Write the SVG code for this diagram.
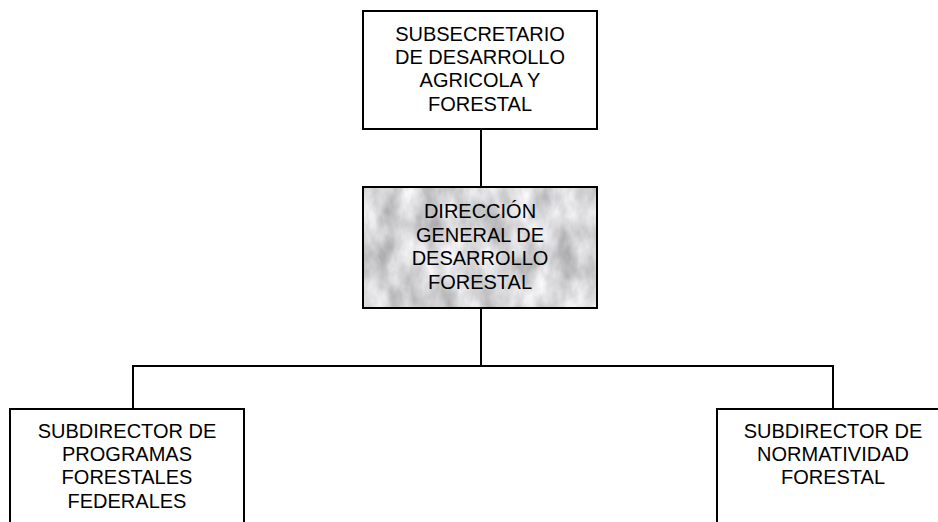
<svg xmlns="http://www.w3.org/2000/svg" width="938" height="522" viewBox="0 0 938 522">
  <style>
    .box { fill: #ffffff; stroke: #000000; stroke-width: 2; }
    .frame { fill: none; stroke: #000000; stroke-width: 2; }
    .link { fill: none; stroke: #000000; stroke-width: 2; }
    .label { font-family: "Liberation Sans", Arial, sans-serif; font-size: 20px; fill: #000000; text-anchor: middle; }
  </style>
  <defs>
    <!-- light grey marble texture for the general directorate -->
    <filter id="marble" x="0" y="0" width="1" height="1" color-interpolation-filters="sRGB">
      <feTurbulence type="fractalNoise" baseFrequency="0.045 0.025" numOctaves="4" seed="7" result="noise"/>
      <feColorMatrix in="noise" type="matrix"
        values="0.45 0 0 0 0.62
                0.45 0 0 0 0.62
                0.45 0 0 0 0.63
                0 0 0 0 1" result="grey"/>
      <feComposite in="grey" in2="SourceGraphic" operator="in"/>
    </filter>
  </defs>

  <g id="connectors">
    <line class="link" x1="481" y1="129" x2="481" y2="187"/>
    <line class="link" x1="481" y1="308" x2="481" y2="366"/>
    <polyline class="link" points="133,409 133,366 833,366 833,409"/>
  </g>

  <g id="subsecretario">
    <rect class="box" x="363" y="11" width="234" height="118"/>
    <text class="label" x="480" y="41">SUBSECRETARIO</text>
    <text class="label" x="480" y="64">DE DESARROLLO</text>
    <text class="label" x="480" y="87">AGRICOLA Y</text>
    <text class="label" x="480" y="111">FORESTAL</text>
  </g>

  <g id="direccion-general">
    <rect x="363" y="187" width="234" height="121" fill="#dcdcdc" filter="url(#marble)"/>
    <rect class="frame" x="363" y="187" width="234" height="121"/>
    <text class="label" x="480" y="218">DIRECCIÓN</text>
    <text class="label" x="480" y="242">GENERAL DE</text>
    <text class="label" x="480" y="265">DESARROLLO</text>
    <text class="label" x="480" y="289">FORESTAL</text>
  </g>

  <g id="subdirector-programas">
    <rect class="box" x="10" y="409" width="234" height="130"/>
    <text class="label" x="127" y="438">SUBDIRECTOR DE</text>
    <text class="label" x="127" y="461">PROGRAMAS</text>
    <text class="label" x="127" y="484">FORESTALES</text>
    <text class="label" x="127" y="508">FEDERALES</text>
  </g>

  <g id="subdirector-normatividad">
    <rect class="box" x="717" y="409" width="234" height="130"/>
    <text class="label" x="833" y="438">SUBDIRECTOR DE</text>
    <text class="label" x="833" y="461">NORMATIVIDAD</text>
    <text class="label" x="833" y="484">FORESTAL</text>
  </g>
</svg>
